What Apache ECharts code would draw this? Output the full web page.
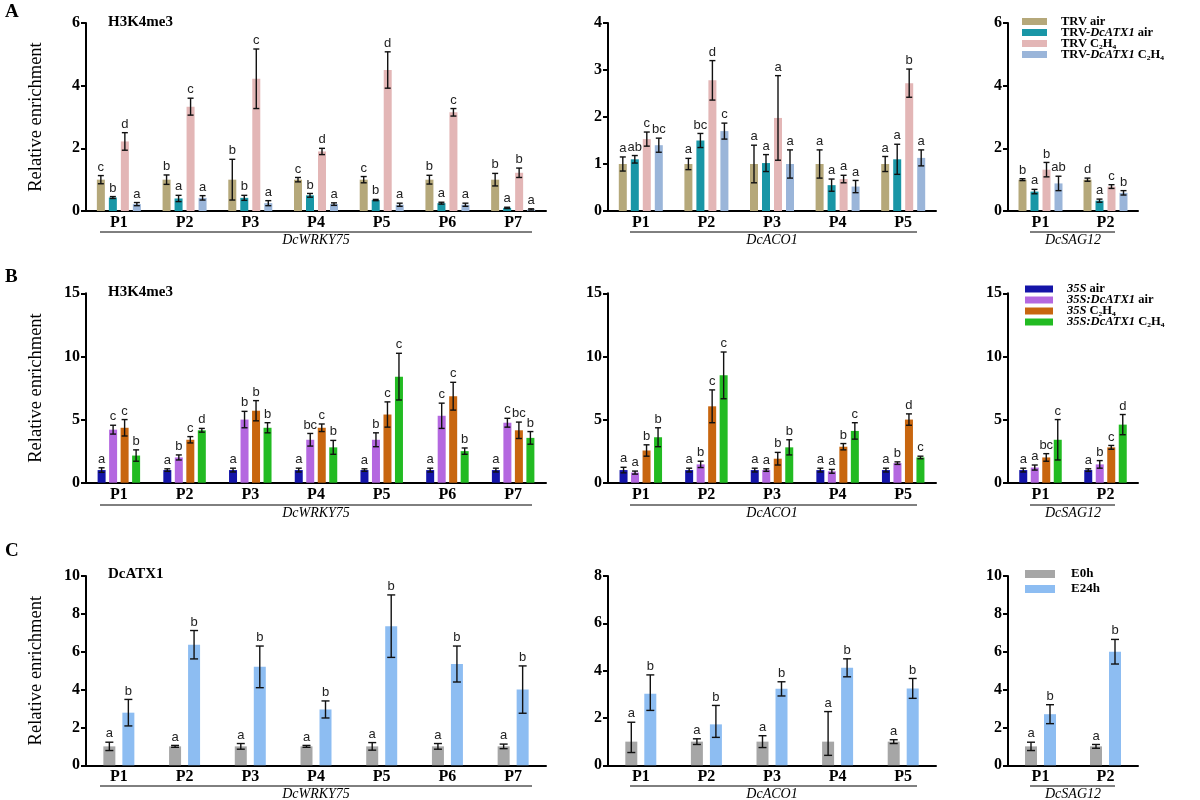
<!DOCTYPE html>
<html><head><meta charset="utf-8">
<script src="https://cdn.jsdelivr.net/npm/echarts@6/dist/echarts.min.js"></script>
<style>html,body{margin:0;padding:0;background:#fff}#c{width:1200px;height:800px}</style>
</head><body><div id="c"></div>
<script>
// ---------- categories ----------
const catsWRKY75 = ['P1','P2','P3','P4','P5','P6','P7'];
const catsACO1 = ['P1','P2','P3','P4','P5'];
const catsSAG12 = ['P1','P2'];

// ---------- series names ----------
const namesA = ['TRV air','TRV-DcATX1 air','TRV C₂H₄','TRV-DcATX1 C₂H₄'];
const namesB = ['35S air','35S:DcATX1 air','35S C₂H₄','35S:DcATX1 C₂H₄'];
const namesC = ['E0h','E24h'];

// ---------- row A : H3K4me3 (TRV) ----------
const A_WRKY75_mean = [
  [1.00,1.00,1.00,1.00,1.00,1.00,1.00],
  [0.43,0.40,0.42,0.50,0.35,0.25,0.10],
  [2.22,3.33,4.22,1.90,4.50,3.15,1.22],
  [0.22,0.42,0.25,0.22,0.20,0.20,0.05]];
const A_WRKY75_err = [
  [0.13,0.15,0.65,0.07,0.10,0.14,0.20],
  [0.03,0.10,0.08,0.06,0.02,0.03,0.02],
  [0.28,0.27,0.95,0.10,0.58,0.12,0.15],
  [0.05,0.07,0.08,0.04,0.05,0.05,0.02]];
const A_WRKY75_sig = [
  ['c','b','b','c','c','b','b'],
  ['b','a','b','b','b','a','a'],
  ['d','c','c','d','d','c','b'],
  ['a','a','a','a','a','a','a']];

const A_ACO1_mean = [
  [1.00,1.00,1.00,1.00,1.00],
  [1.10,1.50,1.02,0.55,1.10],
  [1.53,2.78,1.98,0.68,2.72],
  [1.40,1.70,1.00,0.52,1.13]];
const A_ACO1_err = [
  [0.15,0.12,0.40,0.30,0.16],
  [0.08,0.15,0.18,0.13,0.32],
  [0.15,0.42,0.90,0.08,0.30],
  [0.15,0.17,0.30,0.13,0.17]];
const A_ACO1_sig = [
  ['a','a','a','a','a'],
  ['ab','bc','a','a','a'],
  ['c','d','a','a','b'],
  ['bc','c','a','a','a']];

const A_SAG12_mean = [[1.00,1.00],[0.62,0.33],[1.32,0.78],[0.88,0.58]];
const A_SAG12_err  = [[0.03,0.05],[0.07,0.05],[0.23,0.06],[0.23,0.07]];
const A_SAG12_sig  = [['b','d'],['a','a'],['b','c'],['ab','b']];

// ---------- row B : H3K4me3 (35S) ----------
const B_WRKY75_mean = [
  [1.00,1.00,1.00,1.00,1.00,1.00,1.00],
  [4.20,2.00,5.00,3.40,3.40,5.30,4.75],
  [4.35,3.40,5.70,4.35,5.40,6.85,4.15],
  [2.15,4.15,4.35,2.80,8.40,2.50,3.55]];
const B_WRKY75_err = [
  [0.18,0.10,0.15,0.15,0.10,0.15,0.15],
  [0.35,0.20,0.65,0.50,0.55,1.00,0.35],
  [0.65,0.25,0.80,0.30,1.00,1.10,0.65],
  [0.45,0.15,0.40,0.55,1.85,0.25,0.50]];
const B_WRKY75_sig = [
  ['a','a','a','a','a','a','a'],
  ['c','b','b','bc','b','c','c'],
  ['c','c','b','c','c','c','bc'],
  ['b','d','b','b','c','b','b']];

const B_ACO1_mean = [
  [1.00,1.00,1.00,1.00,1.00],
  [0.80,1.45,1.00,0.90,1.55],
  [2.55,6.05,1.90,2.85,5.00],
  [3.60,8.50,2.80,4.10,2.00]];
const B_ACO1_err = [
  [0.22,0.15,0.15,0.15,0.15],
  [0.12,0.25,0.10,0.15,0.10],
  [0.45,1.30,0.50,0.25,0.45],
  [0.75,1.85,0.60,0.65,0.10]];
const B_ACO1_sig = [
  ['a','a','a','a','a'],
  ['a','b','a','a','b'],
  ['b','c','b','b','d'],
  ['b','c','b','c','c']];

const B_SAG12_mean = [[1.00,1.00],[1.20,1.45],[2.00,2.80],[3.40,4.60]];
const B_SAG12_err  = [[0.15,0.10],[0.20,0.30],[0.30,0.15],[1.60,0.80]];
const B_SAG12_sig  = [['a','a'],['a','b'],['bc','c'],['c','d']];

// ---------- row C : DcATX1 ----------
const C_WRKY75_mean = [
  [1.00,1.00,1.00,1.00,1.00,1.00,1.00],
  [2.78,6.37,5.20,2.95,7.35,5.35,4.00]];
const C_WRKY75_err = [
  [0.22,0.05,0.15,0.05,0.20,0.15,0.12],
  [0.70,0.75,1.10,0.45,1.65,0.95,1.25]];
const C_WRKY75_sig = [
  ['a','a','a','a','a','a','a'],
  ['b','b','b','b','b','b','b']];

const C_ACO1_mean = [[1.00,1.00,1.00,1.00,1.00],[3.02,1.73,3.23,4.12,3.25]];
const C_ACO1_err  = [[0.82,0.12,0.25,1.27,0.08],[0.80,0.80,0.30,0.38,0.42]];
const C_ACO1_errLow = [[0.46,0.12,0.25,0.58,0.08],[0.70,0.55,0.30,0.38,0.42]];
const C_ACO1_sig  = [['a','a','a','a','a'],['b','b','b','b','b']];

const C_SAG12_mean = [[1.00,1.00],[2.70,6.00]];
const C_SAG12_err  = [[0.22,0.10],[0.50,0.65]];
const C_SAG12_sig  = [['a','a'],['b','b']];

// ---------- y-axis tick settings ----------
const yMax = [[6,4,6],[15,15,15],[10,8,10]];
const yStep = [[2,1,2],[5,5,5],[2,2,2]];
const geneNames = ['DcWRKY75','DcACO1','DcSAG12'];
const rowTitles = ['H3K4me3','H3K4me3','DcATX1'];
const rowLetters = ['A','B','C'];

// ---------- styling / layout ----------
const colorsA = ['#b5a87a','#1996a6','#e3b6b6','#9ab5d9'];
const colorsB = ['#1414a8','#b468e0','#c8660f','#22bb22'];
const colorsC = ['#a6a6a6','#8dbdf2'];
const rowTop = [23, 293.3, 576];
const rowH = [188, 189.4, 189.3];
const colLeft = [86, 608, 1008];
const colW = [460, 328, 130];
const barW = [8, 8, 12];
const barGapPx = [4, 3.5, 7];
const capW = [6, 6, 8];
const nameGaps = [22, 24, 22];
const SERIF = '"Liberation Serif","Times New Roman",serif';
const SANS = '"Liberation Sans",Arial,sans-serif';

const panels = [
  {row:0,col:0,cats:catsWRKY75,mean:A_WRKY75_mean,err:A_WRKY75_err,sig:A_WRKY75_sig,names:namesA,colors:colorsA},
  {row:0,col:1,cats:catsACO1,mean:A_ACO1_mean,err:A_ACO1_err,sig:A_ACO1_sig,names:namesA,colors:colorsA},
  {row:0,col:2,cats:catsSAG12,mean:A_SAG12_mean,err:A_SAG12_err,sig:A_SAG12_sig,names:namesA,colors:colorsA},
  {row:1,col:0,cats:catsWRKY75,mean:B_WRKY75_mean,err:B_WRKY75_err,sig:B_WRKY75_sig,names:namesB,colors:colorsB},
  {row:1,col:1,cats:catsACO1,mean:B_ACO1_mean,err:B_ACO1_err,sig:B_ACO1_sig,names:namesB,colors:colorsB},
  {row:1,col:2,cats:catsSAG12,mean:B_SAG12_mean,err:B_SAG12_err,sig:B_SAG12_sig,names:namesB,colors:colorsB},
  {row:2,col:0,cats:catsWRKY75,mean:C_WRKY75_mean,err:C_WRKY75_err,sig:C_WRKY75_sig,names:namesC,colors:colorsC},
  {row:2,col:1,cats:catsACO1,mean:C_ACO1_mean,err:C_ACO1_err,errLow:C_ACO1_errLow,sig:C_ACO1_sig,names:namesC,colors:colorsC},
  {row:2,col:2,cats:catsSAG12,mean:C_SAG12_mean,err:C_SAG12_err,sig:C_SAG12_sig,names:namesC,colors:colorsC}
];

const grids = [], xAxes = [], yAxes = [], series = [];
panels.forEach((p, pi) => {
  grids.push({left: colLeft[p.col], top: rowTop[p.row], width: colW[p.col], height: rowH[p.row],
    containLabel:false, outerBoundsMode:'none'});
  xAxes.push({
    type:'category', gridIndex: pi, data: p.cats,
    axisLine:{lineStyle:{color:'#000', width:2}},
    axisTick:{alignWithLabel:true, length:4, lineStyle:{color:'#000', width:2}},
    axisLabel:{fontFamily:SERIF, fontWeight:'bold', fontSize:16, color:'#000', margin:4},
    name: geneNames[p.col], nameLocation:'middle', nameGap: nameGaps[p.row],
    nameTextStyle:{fontFamily:SERIF, fontStyle:'italic', fontSize:14, color:'#000'}
  });
  yAxes.push({
    type:'value', gridIndex: pi, min:0, max: yMax[p.row][p.col], interval: yStep[p.row][p.col],
    axisLine:{show:true, lineStyle:{color:'#000', width:2}},
    axisTick:{show:true, length:5, lineStyle:{color:'#000', width:2}},
    splitLine:{show:false},
    axisLabel:{fontFamily:SERIF, fontWeight:'bold', fontSize:16, color:'#000', margin:6},
    name: p.col === 0 ? 'Relative enrichment' : '',
    nameLocation:'middle', nameGap: 40, nameRotate: 90,
    nameTextStyle:{fontFamily:SERIF, fontSize:18.5, color:'#000'}
  });
  const n = p.mean.length;
  const bw = barW[p.row], gp = barGapPx[p.row];
  p.mean.forEach((vals, si) => {
    series.push({
      type:'bar', name: p.names[si], xAxisIndex: pi, yAxisIndex: pi,
      data: vals, barWidth: bw, barGap: (gp / bw * 100) + '%',
      itemStyle:{color: p.colors[si]}, animation:false
    });
  });
  p.mean.forEach((vals, si) => {
    const off = (si - (n - 1) / 2) * (bw + gp);
    const cw = capW[p.row] / 2;
    const lows = p.errLow ? p.errLow[si] : p.err[si];
    series.push({
      type:'custom', name:'err', xAxisIndex: pi, yAxisIndex: pi, z: 10, animation:false,
      data: vals.map((m, i) => [i, m, p.err[si][i], lows[i]]),
      encode:{x:0, y:1},
      renderItem: (params, api) => {
        const i = api.value(0), m = api.value(1), eu = api.value(2), el = api.value(3);
        const t = api.coord([i, m + eu]);
        const b = api.coord([i, Math.max(0, m - el)]);
        const x = t[0] + off;
        const ls = {stroke:'#111', lineWidth:1.4};
        return {type:'group', children:[
          {type:'line', shape:{x1:x, y1:t[1], x2:x, y2:b[1]}, style:ls},
          {type:'line', shape:{x1:x-cw, y1:t[1], x2:x+cw, y2:t[1]}, style:ls},
          {type:'line', shape:{x1:x-cw, y1:b[1], x2:x+cw, y2:b[1]}, style:ls},
          {type:'text', x:x, y:t[1]-2, style:{
            text: p.sig[si][params.dataIndex], fill:'#222',
            font:'13px ' + SANS,
            align:'center', verticalAlign:'bottom',
            textAlign:'center', textVerticalAlign:'bottom'}}
        ]};
      }
    });
  });
});

function legendFmt(name){
  return name.replace(/(35S:DcATX1|35S|DcATX1)/, '{i|$1}');
}
const legends = [
  {data:namesA, left:1022, top:15, itemWidth:25, itemHeight:7, fs:12.5, lh:10.2, pl:9, gap:-2},
  {data:namesB, left:1025, top:282.5, itemWidth:28, itemHeight:7, fs:12.5, lh:10.5, pl:9, gap:-2},
  {data:namesC, left:1025, top:566.5, itemWidth:30, itemHeight:8, fs:13, lh:15, pl:11, gap:0}
].map(l => ({
  data:l.data, orient:'vertical', left:l.left, top:l.top, padding:0, itemWidth:l.itemWidth, itemHeight:l.itemHeight,
  itemGap:l.gap, icon:'rect', selectedMode:false, formatter: legendFmt,
  textStyle:{fontFamily:SERIF, fontWeight:'bold', fontSize:l.fs, lineHeight:l.lh, color:'#000', padding:[0,0,0,l.pl],
    rich:{i:{fontFamily:SERIF, fontWeight:'bold', fontStyle:'italic', fontSize:l.fs, lineHeight:l.lh, color:'#000'}}}
}));

const titles = [];
rowLetters.forEach((t, r) => titles.push({text:t, left:5, top:[3,268,542][r], padding:0,
  textStyle:{fontFamily:SERIF, fontWeight:'bold', fontSize:19, color:'#000'}}));
rowTitles.forEach((t, r) => titles.push({text:t, left:108, top:[15,285,567][r], padding:0,
  textStyle:{fontFamily:SERIF, fontWeight:'bold', fontSize:15, color:'#000'}}));

const lineY = [232, 505, 786];
const lineX = [[100,532],[630,917],[1030,1115]];
const graphics = [];
lineY.forEach(y => lineX.forEach(xr => graphics.push({
  type:'line', shape:{x1:xr[0], y1:y, x2:xr[1], y2:y}, style:{stroke:'#000', lineWidth:1}, silent:true})));

const chart = echarts.init(document.getElementById('c'), null, {renderer:'canvas'});
chart.setOption({
  backgroundColor:'#fff', animation:false,
  title: titles, legend: legends, grid: grids, xAxis: xAxes, yAxis: yAxes,
  series: series, graphic: graphics
});
</script></body></html>
